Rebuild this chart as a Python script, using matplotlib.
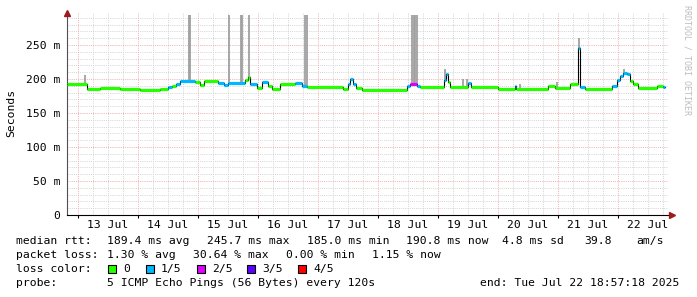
#!/usr/bin/env python3
"""SmokePing style latency chart (median rtt coloured by packet loss)"""

import matplotlib
matplotlib.use('Agg')
import matplotlib.pyplot as plt
from matplotlib.patches import Rectangle

# ---- data (time in hours since 13 Jul 00:00, rtt in ms) ----
seg_start = [-4.4, 3.6, 8.8, 16.8, 24.8, 32.8, 36.0, 37.6, 39.2, 40.8,
             46.8, 48.8, 50.4, 56.0, 58.4, 60.0, 66.8, 68.0, 68.8, 71.6,
             73.6, 76.0, 77.6, 80.8, 86.8, 89.6, 91.6, 106.0, 108.0, 108.8,
             110.0, 111.2, 113.6, 131.6, 132.8, 135.6, 136.8, 146.4, 147.2, 148.0,
             148.8, 156.0, 157.2, 168.0, 174.8, 175.2, 188.0, 190.8, 196.8, 200.0,
             200.8, 202.8, 213.6, 215.6, 216.8, 218.0, 219.6, 220.8, 222.0, 224.0,
             231.6, 234.0]
seg_end = 234.8
median_rtt = [192.5, 185.0, 186.5, 185.5, 184.5, 185.5, 187.5, 189.0, 192.0, 197.0,
              195.0, 191.0, 197.5, 194.0, 190.5, 193.5, 199.0, 203.0, 192.0, 187.0,
              196.0, 189.0, 185.0, 192.0, 194.5, 189.0, 188.0, 185.0, 193.0, 199.5,
              192.0, 186.5, 184.5, 189.0, 192.5, 190.0, 188.0, 198.0, 207.0, 196.0,
              188.5, 194.0, 188.5, 185.0, 190.0, 185.0, 190.0, 186.0, 192.5, 245.0,
              188.5, 185.5, 189.5, 198.0, 205.0, 209.0, 207.0, 197.0, 192.0, 186.0,
              189.0, 188.0]
loss_class = [0, 0, 0, 0, 0, 0, 1, 0, 1, 1,
              0, 0, 0, 1, 1, 1, 0, 0, 1, 0,
              1, 0, 0, 0, 1, 1, 0, 0, 1, 1,
              1, 0, 0, 1, 2, 1, 0, 1, 1, 0,
              0, 1, 0, 0, 1, 0, 0, 0, 0, 1,
              1, 0, 1, 1, 1, 1, 1, 0, 0, 0,
              0, 1]

# smoke spikes (max ping of a sample)
spike_time = [2.8, 44.2, 44.6, 60.4, 65.0, 65.4, 68.4, 90.8, 91.4,
              133.6, 134.2, 134.8, 135.4, 146.8, 154.0, 155.6, 176.8, 191.6,
              200.4, 218.4]
spike_top = [206, 294, 294, 294, 294, 294, 294, 294, 294,
             294, 294, 294, 294, 215, 200, 200, 192, 196,
             260, 214]

day_labels = ['13 Jul', '14 Jul', '15 Jul', '16 Jul', '17 Jul',
              '18 Jul', '19 Jul', '20 Jul', '21 Jul', '22 Jul']
ytick_vals = [0, 50, 100, 150, 200, 250]
ytick_labels = ['0', '50 m', '100 m', '150 m', '200 m', '250 m']

loss_colors = ['#26ff00', '#00b8ff', '#dd00ff', '#5e00ff', '#ff0000']
loss_names = ['0', '1/5', '2/5', '3/5', '4/5']

# ---- figure ----
W, H = 697, 297
MONO = 'DejaVu Sans Mono'
plt.rcParams['font.family'] = MONO
plt.rcParams['font.size'] = 8.2

fig = plt.figure(figsize=(W / 100, H / 100), dpi=100, facecolor='white')
ax = fig.add_axes([67 / W, (H - 215) / H, (668 - 67) / W, (215 - 13) / H])
ax.set_xlim(-4.4, 236)
ax.set_ylim(0, 297)

# grid
grid_minor = dict(color='#d4d4d4', lw=0.7, ls=(0, (1, 1.2)), zorder=0)
grid_major = dict(color='#f0b0b0', lw=0.7, ls=(0, (1, 1.2)), zorder=0.5)
for v in range(10, 297, 10):
    ax.axhline(v, **(grid_major if v % 50 == 0 else grid_minor))
for h in range(0, 237, 6):
    ax.axvline(h, **(grid_major if h % 24 == 0 else grid_minor))

# smoke spikes, starting at the median of the sample they belong to
for t, top in zip(spike_time, spike_top):
    k = max(j for j, s in enumerate(seg_start) if s <= t)
    ax.vlines(t, median_rtt[k], top, color='#a0a0a0', lw=1.3, zorder=2)

# median line: black steps + coloured loss segments
edges = seg_start + [seg_end]
ax.step(edges, median_rtt + [median_rtt[-1]], where='post', color='black', lw=0.8, zorder=3)
for i in range(len(seg_start)):
    ax.hlines(median_rtt[i], edges[i], edges[i + 1], color=loss_colors[loss_class[i]],
              lw=2.3, zorder=4)

# axes styling
for s in ['top', 'right']:
    ax.spines[s].set_visible(False)
ax.spines['left'].set_color('#505050')
ax.spines['bottom'].set_color('black')
ax.set_yticks(ytick_vals)
ax.set_yticklabels(ytick_labels)
ax.tick_params(axis='y', length=0, pad=5)
ax.set_xticks(range(0, 237, 24))
ax.set_xticklabels([])
ax.set_xticks(range(0, 237, 6), minor=True)
ax.tick_params(axis='x', which='major', length=2, direction='out')
ax.tick_params(axis='x', which='minor', length=0)
for i, lab in enumerate(day_labels):
    ax.annotate(lab, (12 + 24 * i, 0), xycoords=('data', 'axes fraction'),
                xytext=(0, -7.5), textcoords='offset points', ha='center', va='center')

# axis arrows
ax.plot([-4.4], [1.0], marker='^', ms=4, color='#9b1c1c', clip_on=False,
        transform=ax.get_xaxis_transform(), zorder=6)
ax.plot([1.006], [0], marker='>', ms=4, color='#9b1c1c', clip_on=False,
        transform=ax.transAxes, zorder=6)

fig.text(11 / W, 1 - 113 / H, 'Seconds', rotation=90, ha='center', va='center')
fig.text(687 / W, 1 - 60 / H, 'RRDTOOL / TOBI OETIKER', rotation=270,
         ha='center', va='center', fontsize=6, color='#bdbdbd')

# ---- legend / stats text ----
def ftext(x, y, s, **kw):
    fig.text(x / W, 1 - y / H, s, ha='left', va='center', **kw)

ftext(16, 241, 'median rtt:')
ftext(107, 241, '189.4 ms avg')
ftext(207, 241, '245.7 ms max')
ftext(307, 241, '185.0 ms min')
ftext(406, 241, '190.8 ms now')
ftext(502, 241, '4.8 ms sd')
ftext(584, 241, '39.8')
ftext(636, 241, 'am/s')

ftext(16, 255, 'packet loss:')
ftext(107, 255, '1.30 % avg')
ftext(193, 255, '30.64 % max')
ftext(286, 255, '0.00 % min')
ftext(372, 255, '1.15 % now')

ftext(16, 269, 'loss color:')
box_x = [108, 146, 197, 247, 298]
for bx, c, name in zip(box_x, loss_colors, loss_names):
    fig.patches.append(Rectangle((bx / W, 1 - 273 / H), 8 / W, 8 / H, transform=fig.transFigure,
                                 facecolor=c, edgecolor='black', lw=0.8))
    ftext(bx + 15, 269, name)

ftext(16, 283, 'probe:')
ftext(107, 283, '5 ICMP Echo Pings (56 Bytes) every 120s')
fig.text(679 / W, 1 - 283 / H, 'end: Tue Jul 22 18:57:18 2025', ha='right', va='center')

fig.savefig('out.png', dpi=100, facecolor='white')
print("Saved: out.png")
